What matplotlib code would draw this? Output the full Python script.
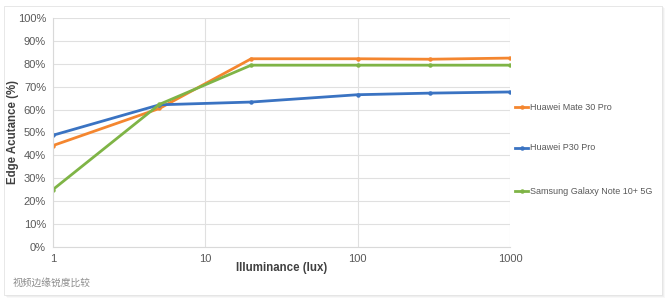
import numpy as np
import matplotlib.pyplot as plt
from matplotlib.patches import Rectangle

plt.rcParams['font.family'] = ['Liberation Sans', 'Noto Sans CJK SC', 'DejaVu Sans']

# illuminance levels (lux)
lux = [1, 5, 20, 100, 300, 1000]

# edge acutance (%)
mate30 = [44.3, 60.5, 82.2, 82.2, 82.0, 82.5]
p30 = [48.8, 62.1, 63.3, 66.5, 67.2, 67.7]
note10 = [25.1, 62.3, 79.4, 79.4, 79.4, 79.4]

names = ['Huawei Mate 30 Pro', 'Huawei P30 Pro', 'Samsung Galaxy Note 10+ 5G']
colors = ['#f4862f', '#3a73c2', '#7fb446']

W, H = 670, 305
fig = plt.figure(figsize=(W / 100, H / 100), dpi=100)

# card with soft shadow
for i, a in enumerate([0.05, 0.08, 0.12]):
    d = 3 - i
    fig.patches.append(Rectangle(((4 + d) / W, (H - 296 - d + 1) / H), 658 / W, 290 / H,
                                 transform=fig.transFigure, facecolor='#888888',
                                 alpha=a, edgecolor='none', zorder=0))
fig.patches.append(Rectangle((4 / W, (H - 295) / H), 658 / W, 289 / H,
                             transform=fig.transFigure, facecolor='white',
                             edgecolor='#e4e4e4', lw=0.6, zorder=1))

ax = fig.add_axes([53 / W, (H - 247) / H, (510 - 53) / W, (247 - 18) / H])
ax.set_zorder(2)
ax.patch.set_alpha(0)

for vals, c, n in zip([mate30, p30, note10], colors, names):
    ax.plot(lux, vals, color=c, lw=2, marker='o', ms=2.2, label=n)

ax.set_xscale('log')
ax.set_xlim(1, 1000)
ax.set_ylim(0, 100)
ax.set_yticks(np.arange(0, 101, 10))
ax.set_yticklabels([f'{v}%' for v in range(0, 101, 10)])
ax.set_xticks([1, 10, 100, 1000])
ax.set_xticklabels(['1', '10', '100', '1000'])
ax.xaxis.set_minor_locator(plt.NullLocator())
ax.grid(True, color='#e0e0e0', lw=0.8)
for s in ['top', 'right']:
    ax.spines[s].set_visible(False)
ax.spines['left'].set_color('#d9d9d9')
ax.spines['bottom'].set_color('#d9d9d9')
ax.tick_params(axis='both', length=0, labelsize=8, colors='#595959', pad=5)
ax.tick_params(axis='x', pad=5)

ax.set_xlabel('Illuminance (lux)', fontsize=8.3, fontweight='bold', color='#404040')
ax.xaxis.set_label_coords(0.5, -0.065)
ax.set_ylabel('Edge Acutance (%)', fontsize=8.3, fontweight='bold', color='#404040')
ax.yaxis.set_label_coords(-0.074, 0.5)

# legend entries drawn at right
leg_y = [107, 148, 191]
for c, n, y in zip(colors, names, leg_y):
    fig.lines.append(plt.Line2D([515 / W, 521.5 / W, 528 / W], [(H - y) / H] * 3, color=c,
                                lw=2, marker='o', ms=2.2, markevery=[1],
                                transform=fig.transFigure, zorder=3))
    fig.text(530 / W, (H - y) / H, n, fontsize=6.5, color='#595959', va='center')

fig.text(13 / W, (H - 283) / H, '视频边缘锐度比较', fontsize=7, color='#8c8c8c',
         va='center', family=['Noto Sans CJK SC', 'DejaVu Sans'])

fig.savefig('out.png', dpi=100)
